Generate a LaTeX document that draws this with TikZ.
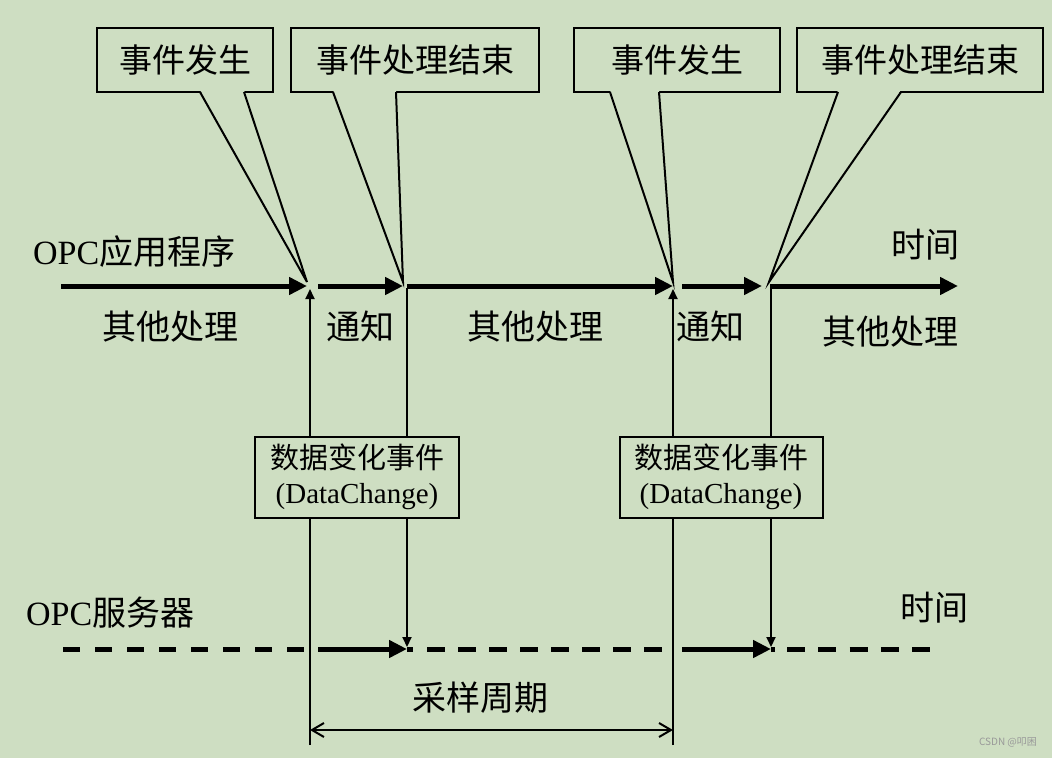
\documentclass[tikz,border=0pt]{standalone}
\usepackage{fontspec}
\setmainfont{Liberation Serif}
\newfontfamily\cjk{Noto Sans CJK SC}
\usetikzlibrary{calc,arrows.meta}
\definecolor{bgcol}{RGB}{206,222,194}

\begin{document}
\begin{tikzpicture}[x=1pt,y=-1pt,
  bigtext/.style={font=\fontsize{34}{40}\selectfont, inner sep=0pt},
  boxtext/.style={font=\fontsize{33}{40}\selectfont},
  dctext/.style={font=\fontsize{29}{35}\selectfont, align=center},
  eventbox/.style={draw, line width=2pt, fill=bgcol, boxtext, minimum height=64pt, inner sep=0pt},
  dcbox/.style={draw, line width=2pt, fill=bgcol, dctext, minimum width=204pt, minimum height=81pt, inner sep=0pt},
  timeline/.style={line width=5pt, -{Triangle[length=18pt,width=17pt]}},
  thinarrow/.style={line width=2pt, -{Triangle[length=10pt,width=9pt]}},
  tail/.style={line width=2pt, line join=miter}]

  %% background and page size
  \fill[bgcol] (0,0) rectangle (1052,758);
  \useasboundingbox (0,0) rectangle (1052,758);

  %% Points where the callouts meet the time line
  \coordinate (TIP1) at (307,282);
  \coordinate (TIP2) at (403,282);
  \coordinate (TIP3) at (673,282);
  \coordinate (TIP4) at (769,282);

  %% Ends of the vertical lines
  \coordinate (A1) at (310,289); \coordinate (S1) at (310,745);
  \coordinate (A2) at (407,288); \coordinate (S2) at (407,647);
  \coordinate (A3) at (673,289); \coordinate (S3) at (673,745);
  \coordinate (A4) at (771,288); \coordinate (S4) at (771,647);

  \foreach \u/\v in {S1/A1, A2/S2, S3/A3, A4/S4}
  {
    \draw[thinarrow] (\u) -- (\v);
  }

  %% Time line of the application
  \foreach \a/\b in {61/307, 318/403, 407/673, 682/762, 770/958}
  {
    \draw[timeline] (\a,286) -- (\b,286);
  }

  %% Time line of the server
  \foreach \a/\b/\on/\off in {63/305/17/15, 427/664/18/13, 787/932/18/13.25}
  {
    \draw[line width=5pt, dash pattern=on \on pt off \off pt] (\a,649) -- (\b,649);
  }
  \draw[line width=5pt] (407,649) -- (413,649);
  \draw[line width=5pt] (771,649) -- (775,649);
  \foreach \a/\b in {318/407, 682/771}
  {
    \draw[timeline] (\a,649) -- (\b,649);
  }

  %% Callout boxes on top
  \node[eventbox, minimum width=176pt] (EVT1) at (185,60) {\cjk 事件发生};
  \node[eventbox, minimum width=248pt] (END1) at (415,60) {\cjk 事件处理结束};
  \node[eventbox, minimum width=206pt] (EVT2) at (677,60) {\cjk 事件发生};
  \node[eventbox, minimum width=246pt] (END2) at (920,60) {\cjk 事件处理结束};

  \foreach \l/\r/\t in {200/244/TIP1, 333/396/TIP2, 610/659/TIP3, 838/901/TIP4}
  {
    \fill[bgcol] (\l,90) -- (\t) -- (\r,90) -- cycle;
    \draw[tail] (\l,92) -- (\t) -- (\r,92);
  }

  %% Data change boxes
  \node[dcbox] (DC1) at (357,477) {{\cjk 数据变化事件}\\(DataChange)};
  \node[dcbox, minimum width=203pt] (DC2) at (721,477) {{\cjk 数据变化事件}\\(DataChange)};

  %% Labels
  \node[bigtext, anchor=west] (APP) at (33,252) {OPC{\cjk 应用程序}};
  \node[bigtext] (TIME1) at (925,245) {\cjk 时间};
  \node[bigtext] (OTHER1) at (170,327) {\cjk 其他处理};
  \node[bigtext] (NOTE1) at (360,327) {\cjk 通知};
  \node[bigtext] (OTHER2) at (535,327) {\cjk 其他处理};
  \node[bigtext] (NOTE2) at (710,327) {\cjk 通知};
  \node[bigtext] (OTHER3) at (890,332) {\cjk 其他处理};
  \node[bigtext, anchor=west] (SRV) at (26,613) {OPC{\cjk 服务器}};
  \node[bigtext] (TIME2) at (934,608) {\cjk 时间};
  \node[bigtext] (PERIOD) at (480,698) {\cjk 采样周期};

  %% Sampling period
  \draw[line width=2pt, {Straight Barb[length=12pt,width=14pt]}-{Straight Barb[length=12pt,width=14pt]}]
    ($(S1)+(0,-15)$) -- ($(S3)+(0,-15)$);

  \node[font=\cjk\fontsize{10}{12}\selectfont, text=gray!80] (WM) at (1008,742) {CSDN @叩困};

\end{tikzpicture}
\end{document}
